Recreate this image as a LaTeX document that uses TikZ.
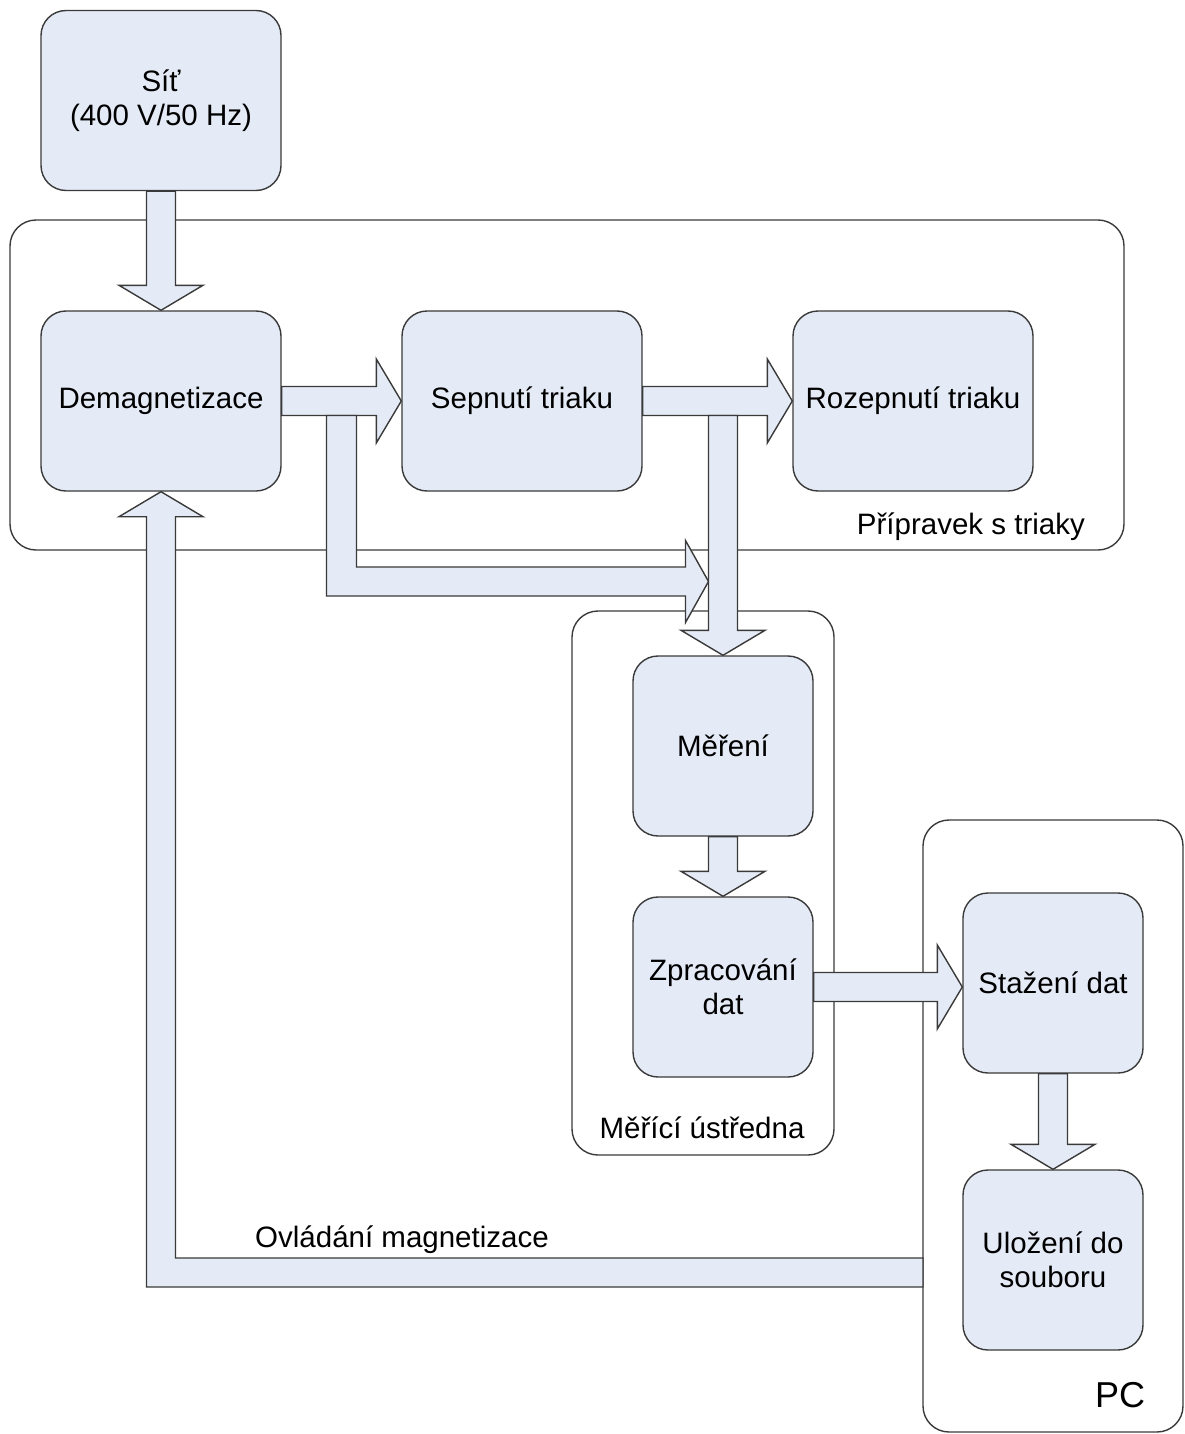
\documentclass[tikz,border=0pt]{standalone}
\usepackage{fontspec}
\setmainfont{Liberation Sans}
\usepackage{tikz}
\usetikzlibrary{calc}

\definecolor{boxfill}{RGB}{229,235,246}
\definecolor{boxline}{RGB}{58,58,58}

% fat block arrows between two nodes
\newcommand{\fatdown}[2]{%
  \draw[fatarrow] let \p1=(#1.south), \p2=(#2.north) in
    (\x1-14.5pt,\y1) -- (\x1-14.5pt,\y2+25pt) -- (\x1-42pt,\y2+25pt) -- (\x1,\y2)
    -- (\x1+42pt,\y2+25pt) -- (\x1+14.5pt,\y2+25pt) -- (\x1+14.5pt,\y1) -- cycle;}
\newcommand{\fatright}[2]{%
  \draw[fatarrow] let \p1=(#1.east), \p2=(#2.west) in
    (\x1,\y1+14.5pt) -- (\x2-25pt,\y1+14.5pt) -- (\x2-25pt,\y1+42pt) -- (\x2,\y1)
    -- (\x2-25pt,\y1-42pt) -- (\x2-25pt,\y1-14.5pt) -- (\x1,\y1-14.5pt) -- cycle;}

\begin{document}
\begin{tikzpicture}[x=1pt,y=-1pt,
    block/.style={draw=boxline,fill=boxfill,line width=1.4pt,rounded corners=25pt,
      minimum width=240pt,minimum height=180pt,inner sep=0pt,align=center,
      font=\fontsize{29.5}{34}\selectfont},
    sqblock/.style={block,minimum width=180pt},
    group/.style={draw=boxline,line width=1.4pt,rounded corners=26pt,inner sep=0pt},
    grouplabel/.style={font=\fontsize{29.5}{34}\selectfont,inner sep=0pt},
    fatarrow/.style={draw=boxline,fill=boxfill,line width=1.4pt,line join=miter}]
    \useasboundingbox (0,0) rectangle (1184,1434);

    % groups
    \node[group,minimum width=1114pt,minimum height=330pt] (pripravek) at (567,385) {};
    \node[grouplabel,anchor=east] (pripravektxt) at (1085,527) {Přípravek s triaky};
    \node[group,minimum width=262pt,minimum height=544pt] (ustredna) at (703,883) {};
    \node[grouplabel] (ustrednatxt) at (702,1128) {Měřící ústředna};
    \node[group,minimum width=260pt,minimum height=612pt] (pc) at (1053,1126) {};
    \node[grouplabel,font=\fontsize{36}{40}\selectfont] (pctxt) at (1120,1395) {PC};

    % blocks
    \node[block] (sit) at (161,100.5) {Síť\\(400 V/50 Hz)};
    \node[block] (demag) at (161,401) {Demagnetizace};
    \node[block] (sepn) at (522,401) {Sepnutí triaku};
    \node[block] (rozep) at (913,401) {Rozepnutí triaku};
    \node[sqblock] (meren) at (723,746) {Měření};
    \node[sqblock] (zprac) at (723,987) {Zpracování\\dat};
    \node[sqblock] (staz) at (1053,983) {Stažení dat};
    \node[sqblock] (uloz) at (1053,1260) {Uložení do\\souboru};

    \coordinate (bend) at (342,581.5);
    \coordinate (ctl) at (923,1272.5);

    % arrows
    \fatdown{sit}{demag}
    \fatright{demag}{sepn}
    \fatright{sepn}{rozep}
    \draw[fatarrow] let \p1=($(demag.east)!0.5!(sepn.west)$), \p2=(meren.north), \p3=(bend) in
      (\x1-15pt,\y1-14.5pt) -- (\x1-15pt,\y3-14.5pt) -- (\x2-37.5pt,\y3-14.5pt)
      -- (\x2-37.5pt,\y3-41pt) -- (\x2-14.5pt,\y3) -- (\x2-37.5pt,\y3+41pt)
      -- (\x2-37.5pt,\y3+14.5pt) -- (\x1+15pt,\y3+14.5pt) -- (\x1+15pt,\y1-14.5pt) -- cycle;
    \draw[fatarrow] let \p1=(sepn.east), \p2=(meren.north) in
      (\x2-14.5pt,\y1-14.5pt) -- (\x2-14.5pt,\y2+25pt) -- (\x2-42pt,\y2+25pt) -- (\x2,\y2)
      -- (\x2+42pt,\y2+25pt) -- (\x2+14.5pt,\y2+25pt) -- (\x2+14.5pt,\y1-14.5pt) -- cycle;
    \fatdown{meren}{zprac}
    \fatright{zprac}{staz}
    \fatdown{staz}{uloz}
    \draw[fatarrow] let \p1=(ctl), \p2=(demag.south) in
      (\x1,\y1+14.5pt) -- (\x2+14.5pt,\y1+14.5pt) -- (\x2+14.5pt,\y2-25pt) -- (\x2+42pt,\y2-25pt)
      -- (\x2,\y2) -- (\x2-42pt,\y2-25pt) -- (\x2-14.5pt,\y2-25pt) -- (\x2-14.5pt,\y1-14.5pt)
      -- (\x1,\y1-14.5pt) -- cycle;
    \node[grouplabel,anchor=west] (ctltxt) at (255,1240) {Ovládání magnetizace};
\end{tikzpicture}
\end{document}
